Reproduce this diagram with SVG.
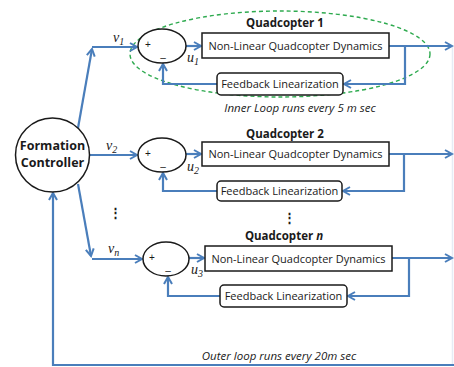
<svg xmlns="http://www.w3.org/2000/svg" width="454" height="367" viewBox="0 0 454 367">
<defs>
<marker id="arr" markerWidth="10" markerHeight="10" refX="8" refY="5" orient="auto" markerUnits="userSpaceOnUse">
<path d="M1,1 L8,5 L1,9" fill="none" stroke="#4a7ebb" stroke-width="2"/>
</marker>
</defs>
<style>
.c{fill:none;stroke:#4a7ebb;stroke-width:2.2}
.a{marker-end:url(#arr)}
.n{fill:#fff;stroke:#1a1a1a;stroke-width:1.5}
.t{font-family:"Open Sans","Liberation Sans",sans-serif;font-size:11px;fill:#1a1a1a;text-anchor:middle}
.b{font-weight:bold;font-size:11.5px}
.i{font-style:italic;font-size:11.5px}
.m{font-family:"Liberation Serif",serif;font-style:italic;font-size:14px;fill:#1a1a1a}
.s{font-size:10px}
.p{font-family:"Liberation Sans",sans-serif;font-size:10px;fill:#1a1a1a;text-anchor:middle}
</style>
<rect width="454" height="367" fill="#fff"/>
<ellipse cx="280" cy="54" rx="150" ry="43" fill="none" stroke="#2eaa4f" stroke-width="1.4" stroke-dasharray="4,3"/>
<g id="connectors">
<line x1="452.5" y1="46" x2="452.5" y2="365" style="stroke:#e6ecf5;stroke-width:1.5"/>
<path class="c a" d="M78,128 L92,49"/>
<path class="c a" d="M92,47 L137,47"/>
<path class="c a" d="M186,46 L201,46"/>
<path class="c a" d="M389,46 L452,46"/>
<path class="c a" d="M405,46 L405,84 L344,84"/>
<path class="c a" d="M217,84 L163,84 L163,64"/>
<path class="c a" d="M89,155 L137,155"/>
<path class="c a" d="M186,154 L201,154"/>
<path class="c a" d="M389,154 L452,154"/>
<path class="c a" d="M404,154 L404,191 L343,191"/>
<path class="c a" d="M217,191 L163,191 L163,173"/>
<path class="c a" d="M78,184 L91,256"/>
<path class="c a" d="M92,259 L142,259"/>
<path class="c a" d="M189,258 L204,258"/>
<path class="c a" d="M392,258 L452,258"/>
<path class="c a" d="M409,258 L409,296 L348,296"/>
<path class="c a" d="M220,296 L168,296 L168,277"/>
<path class="c a" d="M454,365 L53,365 L53,193"/>
</g>
<g id="formation-controller">
<circle class="n" cx="52.5" cy="155" r="37"/>
<text class="t b" x="52.5" y="150" style="font-size:12.5px">Formation</text>
<text class="t b" x="52.5" y="167" style="font-size:12.5px">Controller</text>
</g>
<g id="sum1">
<ellipse class="n" cx="162" cy="46" rx="24" ry="17"/>
<text class="p" x="148" y="48">+</text>
<text class="p" x="163" y="61">–</text>
</g>
<g id="sum2">
<ellipse class="n" cx="162" cy="155" rx="24" ry="17"/>
<text class="p" x="148" y="157">+</text>
<text class="p" x="163" y="170">–</text>
</g>
<g id="sum3">
<ellipse class="n" cx="166" cy="259" rx="23" ry="17"/>
<text class="p" x="152" y="261">+</text>
<text class="p" x="168" y="274">–</text>
</g>
<g id="labels">
<text class="m" x="113" y="42">v<tspan class="s" dy="3">1</tspan></text>
<text class="m" x="106" y="150">v<tspan class="s" dy="3">2</tspan></text>
<text class="m" x="108" y="253">v<tspan class="s" dy="3">n</tspan></text>
<text class="m" x="187" y="62">u<tspan class="s" dy="3">1</tspan></text>
<text class="m" x="187" y="171">u<tspan class="s" dy="3">2</tspan></text>
<text class="m" x="191" y="274">u<tspan class="s" dy="3">3</tspan></text>
<text class="t" x="115" y="217" style="font-weight:bold;font-size:13px">⋮</text>
<text class="t" x="289" y="222" style="font-weight:bold;font-size:13px">⋮</text>
<text class="t i" x="300" y="112">Inner Loop runs every 5 m sec</text>
<text class="t i" x="279" y="360">Outer loop runs every 20m sec</text>
</g>
<g id="quadcopter1">
<text class="t b" x="285" y="27">Quadcopter 1</text>
<g id="dyn1"><rect class="n" x="202" y="33" width="187" height="25"/>
<text class="t" x="295.5" y="50">Non-Linear Quadcopter Dynamics</text></g>
<g id="fb1"><rect class="n" x="217" y="73" width="126" height="22" rx="4"/>
<text class="t" x="280" y="88">Feedback Linearization</text></g>
</g>
<g id="quadcopter2">
<text class="t b" x="285" y="138">Quadcopter 2</text>
<g id="dyn2"><rect class="n" x="202" y="142" width="187" height="24"/>
<text class="t" x="295.5" y="158">Non-Linear Quadcopter Dynamics</text></g>
<g id="fb2"><rect class="n" x="217" y="181" width="125" height="20" rx="4"/>
<text class="t" x="279.5" y="195">Feedback Linearization</text></g>
</g>
<g id="quadcopterN">
<text class="t b" x="284" y="240">Quadcopter <tspan style="font-style:italic">n</tspan></text>
<g id="dyn3"><rect class="n" x="205" y="246" width="187" height="25"/>
<text class="t" x="298.5" y="263">Non-Linear Quadcopter Dynamics</text></g>
<g id="fb3"><rect class="n" x="220" y="285" width="127" height="22" rx="4"/>
<text class="t" x="283.5" y="300">Feedback Linearization</text></g>
</g>
</svg>
